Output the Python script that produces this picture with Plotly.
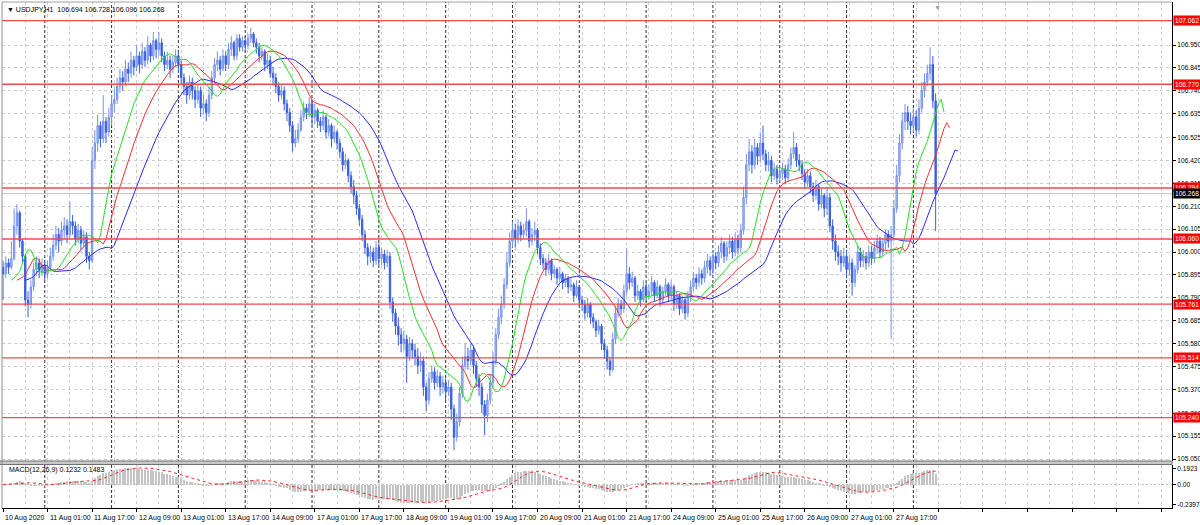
import numpy as np
import pandas as pd
import plotly.graph_objects as go

# ---------------- data (USDJPY H1) ----------------
first_open = 105.93
closes = [
    105.90, 105.95, 105.93, 105.97, 106.12, 106.18, 106.05, 105.98,
    105.78, 105.76, 105.84, 105.92, 105.95, 105.91, 105.94, 105.90,
    105.93, 105.98, 106.03, 106.08, 106.05, 106.10, 106.12, 106.08,
    106.14, 106.12, 106.06, 106.10, 106.04, 106.07, 105.98, 105.96,
    106.42, 106.50, 106.58, 106.52, 106.60, 106.55, 106.62, 106.68,
    106.70, 106.76, 106.80, 106.78, 106.84, 106.82, 106.88, 106.85,
    106.90, 106.86, 106.92, 106.88, 106.95, 106.90, 106.97, 106.93,
    106.96, 106.90, 106.86, 106.88, 106.84, 106.87, 106.90, 106.86,
    106.80, 106.76, 106.72, 106.78, 106.74, 106.70, 106.74, 106.66,
    106.68, 106.64, 106.72, 106.80, 106.86, 106.88, 106.84, 106.90,
    106.86, 106.93, 106.96, 106.90, 106.98, 106.94, 106.97, 106.95,
    106.98, 107.00, 106.96, 106.94, 106.90, 106.92, 106.86, 106.88,
    106.82, 106.80, 106.76, 106.72, 106.74, 106.68, 106.64, 106.58,
    106.50, 106.52, 106.56, 106.62, 106.66, 106.64, 106.68, 106.62,
    106.65, 106.60, 106.58, 106.62, 106.55, 106.58, 106.52, 106.55,
    106.50, 106.46, 106.40, 106.42, 106.35, 106.30, 106.26, 106.20,
    106.15, 106.08, 106.02, 105.98, 106.00, 105.96, 106.02, 105.97,
    105.99, 105.95, 105.98, 105.77, 105.72, 105.66, 105.62, 105.58,
    105.60, 105.52, 105.58, 105.55, 105.52, 105.48, 105.50, 105.38,
    105.32, 105.42, 105.45, 105.40, 105.43, 105.38, 105.40, 105.36,
    105.38, 105.28, 105.15, 105.22, 105.35, 105.48, 105.52, 105.50,
    105.55, 105.48, 105.42, 105.38, 105.30, 105.25, 105.32, 105.40,
    105.50, 105.62, 105.70, 105.76, 105.85, 105.95, 106.05, 106.10,
    106.06, 106.12, 106.08, 106.10, 106.14, 106.05, 106.08, 106.10,
    106.02, 105.97, 105.95, 105.92, 105.96, 105.90, 105.92, 105.88,
    105.90, 105.86, 105.88, 105.84, 105.85, 105.80, 105.84, 105.78,
    105.76, 105.72, 105.76, 105.70, 105.68, 105.64, 105.66, 105.58,
    105.55, 105.50, 105.46, 105.60, 105.72, 105.76, 105.74, 105.82,
    105.90, 105.86, 105.88, 105.80, 105.82, 105.78, 105.84, 105.80,
    105.82, 105.86, 105.80, 105.84, 105.78, 105.82, 105.85, 105.80,
    105.84, 105.76, 105.80, 105.74, 105.78, 105.72, 105.80, 105.84,
    105.88, 105.86, 105.90, 105.88, 105.93, 105.96, 105.92, 105.98,
    105.95, 106.00, 106.04, 105.98, 106.02, 106.05, 106.00, 106.06,
    106.02, 106.10, 106.25, 106.40, 106.46, 106.40, 106.48, 106.44,
    106.50, 106.45, 106.40, 106.42, 106.35, 106.38, 106.34, 106.36,
    106.38, 106.34, 106.40, 106.45, 106.48, 106.42, 106.40, 106.36,
    106.32, 106.35, 106.30, 106.26, 106.30, 106.22, 106.26, 106.20,
    106.25, 106.12, 106.05, 106.00, 105.98, 105.95, 105.98, 105.92,
    105.95, 105.86, 105.92, 106.00, 105.96, 105.98, 105.95, 106.00,
    105.97, 106.02, 106.05, 106.00, 106.04, 106.08, 106.05, 106.08,
    106.20, 106.35, 106.50, 106.60, 106.64, 106.60, 106.58, 106.62,
    106.56, 106.66, 106.74, 106.78, 106.82, 106.86, 106.694, 106.268,
]
highs = [
    105.96, 105.98, 105.97, 106.05, 106.20, 106.22, 106.19, 106.06,
    105.99, 105.82, 105.87, 105.95, 105.98, 105.97, 105.97, 105.96,
    105.96, 106.02, 106.08, 106.12, 106.11, 106.14, 106.16, 106.15,
    106.23, 106.17, 106.14, 106.13, 106.12, 106.10, 106.09, 106.00,
    106.48, 106.56, 106.63, 106.60, 106.72, 106.62, 106.66, 106.72,
    106.75, 106.80, 106.84, 106.83, 106.88, 106.87, 106.92, 106.90,
    106.95, 106.92, 106.96, 106.94, 106.99, 106.96, 107.01, 106.98,
    107.01, 106.98, 106.92, 106.92, 106.90, 106.90, 106.93, 106.92,
    106.88, 106.82, 106.78, 106.81, 106.80, 106.76, 106.77, 106.76,
    106.72, 106.70, 106.76, 106.83, 106.89, 106.92, 106.90, 106.93,
    106.92, 106.96, 106.99, 106.97, 107.00, 107.00, 106.99, 106.99,
    107.00, 107.03, 107.01, 106.98, 106.96, 106.94, 106.93, 106.91,
    106.90, 106.85, 106.82, 106.78, 106.77, 106.76, 106.70, 106.66,
    106.60, 106.56, 106.59, 106.65, 106.69, 106.68, 106.71, 106.70,
    106.68, 106.66, 106.62, 106.65, 106.63, 106.61, 106.59, 106.58,
    106.56, 106.52, 106.48, 106.45, 106.43, 106.37, 106.33, 106.28,
    106.22, 106.17, 106.10, 106.04, 106.03, 106.02, 106.05, 106.04,
    106.02, 106.01, 106.01, 106.00, 105.79, 105.74, 105.70, 105.65,
    105.64, 105.62, 105.61, 105.60, 105.58, 105.56, 105.54, 105.52,
    105.40, 105.45, 105.48, 105.47, 105.46, 105.45, 105.43, 105.42,
    105.41, 105.40, 105.30, 105.26, 105.38, 105.52, 105.58, 105.56,
    105.58, 105.57, 105.50, 105.44, 105.40, 105.32, 105.35, 105.44,
    105.54, 105.65, 105.74, 105.80, 105.88, 106.00, 106.09, 106.14,
    106.13, 106.15, 106.14, 106.13, 106.20, 106.15, 106.11, 106.14,
    106.11, 106.04, 105.99, 105.97, 105.99, 105.97, 105.94, 105.93,
    105.93, 105.91, 105.90, 105.89, 105.88, 105.86, 105.87, 105.85,
    105.80, 105.78, 105.79, 105.77, 105.72, 105.69, 105.69, 105.67,
    105.60, 105.57, 105.52, 105.63, 105.75, 105.79, 105.78, 105.85,
    106.02, 105.93, 105.91, 105.89, 105.85, 105.83, 105.87, 105.86,
    105.85, 105.89, 105.87, 105.87, 105.85, 105.84, 105.88, 105.86,
    105.87, 105.85, 105.82, 105.81, 105.80, 105.79, 105.82, 105.87,
    105.91, 105.90, 105.93, 105.92, 105.96, 105.99, 105.98, 106.01,
    106.00, 106.03, 106.07, 106.05, 106.05, 106.08, 106.07, 106.09,
    106.08, 106.13, 106.30, 106.45, 106.52, 106.49, 106.52, 106.50,
    106.55, 106.58, 106.47, 106.46, 106.44, 106.41, 106.40, 106.39,
    106.41, 106.40, 106.43, 106.48, 106.55, 106.50, 106.45, 106.42,
    106.38, 106.38, 106.37, 106.32, 106.33, 106.31, 106.29, 106.27,
    106.30, 106.27, 106.15, 106.08, 106.03, 106.01, 106.02, 106.01,
    105.98, 105.97, 105.94, 106.03, 106.02, 106.01, 106.00, 106.03,
    106.03, 106.05, 106.08, 106.07, 106.06, 106.10, 106.10, 106.12,
    106.24, 106.40, 106.54, 106.64, 106.68, 106.67, 106.64, 106.66,
    106.65, 106.70, 106.78, 106.82, 106.86, 106.94, 106.90, 106.728,
]
lows = [
    105.78, 105.88, 105.90, 105.92, 105.96, 106.08, 106.02, 105.95,
    105.75, 105.70, 105.74, 105.82, 105.89, 105.88, 105.89, 105.87,
    105.88, 105.92, 105.96, 106.01, 106.00, 106.03, 106.06, 106.04,
    106.06, 106.08, 106.03, 106.04, 106.01, 106.02, 105.95, 105.92,
    105.95, 106.38, 106.46, 106.48, 106.50, 106.50, 106.53, 106.58,
    106.64, 106.68, 106.73, 106.74, 106.76, 106.78, 106.80, 106.81,
    106.83, 106.82, 106.84, 106.85, 106.86, 106.87, 106.88, 106.89,
    106.90, 106.87, 106.83, 106.84, 106.80, 106.82, 106.85, 106.83,
    106.77, 106.72, 106.68, 106.70, 106.70, 106.66, 106.68, 106.62,
    106.63, 106.60, 106.62, 106.70, 106.78, 106.83, 106.81, 106.83,
    106.83, 106.84, 106.90, 106.88, 106.88, 106.92, 106.92, 106.92,
    106.93, 106.96, 106.94, 106.91, 106.87, 106.88, 106.83, 106.84,
    106.80, 106.77, 106.73, 106.69, 106.70, 106.65, 106.60, 106.55,
    106.46, 106.48, 106.50, 106.55, 106.60, 106.61, 106.62, 106.58,
    106.59, 106.57, 106.55, 106.56, 106.52, 106.53, 106.48, 106.50,
    106.47, 106.43, 106.37, 106.38, 106.32, 106.27, 106.22, 106.17,
    106.12, 106.05, 105.99, 105.94, 105.95, 105.93, 105.94, 105.94,
    105.94, 105.92, 105.93, 105.74, 105.68, 105.62, 105.57, 105.54,
    105.55, 105.40, 105.50, 105.51, 105.48, 105.44, 105.45, 105.34,
    105.27, 105.30, 105.40, 105.37, 105.38, 105.34, 105.35, 105.32,
    105.34, 105.23, 105.09, 105.13, 105.20, 105.33, 105.46, 105.46,
    105.48, 105.44, 105.38, 105.34, 105.26, 105.16, 105.22, 105.30,
    105.38, 105.48, 105.60, 105.67, 105.74, 105.83, 105.93, 106.02,
    106.02, 106.04, 106.05, 106.06, 106.07, 106.02, 106.03, 106.05,
    105.99, 105.94, 105.92, 105.89, 105.90, 105.87, 105.88, 105.85,
    105.86, 105.83, 105.84, 105.81, 105.82, 105.77, 105.79, 105.75,
    105.73, 105.69, 105.70, 105.67, 105.65, 105.61, 105.62, 105.55,
    105.51, 105.46, 105.43, 105.45, 105.58, 105.70, 105.71, 105.72,
    105.80, 105.83, 105.84, 105.77, 105.78, 105.75, 105.77, 105.77,
    105.78, 105.80, 105.77, 105.79, 105.75, 105.76, 105.80, 105.77,
    105.78, 105.73, 105.74, 105.71, 105.72, 105.69, 105.70, 105.77,
    105.82, 105.83, 105.84, 105.85, 105.86, 105.90, 105.89, 105.90,
    105.92, 105.93, 105.97, 105.95, 105.96, 105.99, 105.97, 105.98,
    105.99, 106.00, 106.08, 106.22, 106.37, 106.36, 106.38, 106.40,
    106.41, 106.42, 106.37, 106.37, 106.32, 106.33, 106.31, 106.32,
    106.33, 106.31, 106.32, 106.38, 106.43, 106.39, 106.37, 106.33,
    106.29, 106.30, 106.27, 106.23, 106.24, 106.19, 106.20, 106.16,
    106.17, 106.09, 106.01, 105.96, 105.94, 105.91, 105.93, 105.88,
    105.89, 105.80, 105.84, 105.90, 105.93, 105.93, 105.92, 105.93,
    105.94, 105.95, 105.99, 105.97, 105.98, 106.01, 106.02, 105.60,
    106.05, 106.18, 106.32, 106.47, 106.56, 106.56, 106.54, 106.55,
    106.53, 106.54, 106.64, 106.71, 106.76, 106.79, 106.66, 106.096,
]

x_label_text = ["10 Aug 2020", "11 Aug 01:00", "11 Aug 17:00", "12 Aug 09:00",
                "13 Aug 01:00", "13 Aug 17:00", "14 Aug 09:00", "17 Aug 01:00",
                "17 Aug 17:00", "18 Aug 09:00", "19 Aug 01:00", "19 Aug 17:00",
                "20 Aug 09:00", "21 Aug 01:00", "21 Aug 17:00", "24 Aug 09:00",
                "25 Aug 01:00", "25 Aug 17:00", "26 Aug 09:00", "27 Aug 01:00",
                "27 Aug 17:00"]
x_label_step = 16
day_start_bars = [15, 39, 63, 87, 111, 135, 159, 183, 207, 231, 255, 279, 303, 327]

price_ticks = [106.950, 106.845, 106.740, 106.635, 106.525, 106.420, 106.315,
               106.210, 106.105, 106.000, 105.895, 105.790, 105.685, 105.580,
               105.475, 105.370, 105.260, 105.155, 105.050]
red_levels = [107.062, 106.770, 106.294, 106.060, 105.761, 105.514, 105.240]
current_price = 106.268
macd_ticks = [0.1923, 0.0, -0.2397]
macd_tick_text = ["0.1923", "0.00", "-0.2397"]
title_text = "USDJPY,H1  106.694 106.728 106.096 106.268"
macd_text = "MACD(12,26,9) 0.1232 0.1483"

# ---------------- derived series ----------------
n = len(closes)
idx = np.arange(n)
opens = [first_open] + closes[:-1]
hi = np.maximum.reduce([np.array(highs), np.array(opens), np.array(closes)])
lo = np.minimum.reduce([np.array(lows), np.array(opens), np.array(closes)])

median = pd.Series((hi + lo) / 2.0)
def smma(s, p):
    return s.ewm(alpha=1.0 / p, adjust=False).mean().values

jaw = smma(median, 13)    # blue, shift 8
teeth = smma(median, 8)   # red, shift 5
lips = smma(median, 5)    # green, shift 3

cs = pd.Series(closes)
macd_main = (cs.ewm(span=12, adjust=False).mean() - cs.ewm(span=26, adjust=False).mean())
macd_sig = macd_main.rolling(9, min_periods=1).mean()

# ---------------- layout geometry (pixels) ----------------
W, H = 1200, 525
L, R, T, B = 2, 28, 2, 17
plot_h = H - T - B
def py(ypix):
    return (H - B - ypix) / plot_h

main_dom = [py(461), 1.0]
macd_dom = [0.0, py(464.5)]

px_per_bar = 2.784
x0_pix = 3.0
x_min = (L - x0_pix) / px_per_bar
x_max = (W - R - x0_pix) / px_per_bar

ppu = 217.9  # pixels per 1.0 price
p_top = 106.95 + (45 - T) / ppu
p_bot = 106.95 - (461 - 45) / ppu

FONT = "Liberation Sans"
fs = 6.6

fig = go.Figure()

fig.add_trace(go.Candlestick(
    x=idx, open=opens, high=hi, low=lo, close=closes,
    increasing=dict(line=dict(color="#7592ea", width=1), fillcolor="#aebff3"),
    decreasing=dict(line=dict(color="#3a5fdc", width=1), fillcolor="#3a5fdc"),
    whiskerwidth=0, showlegend=False, hoverinfo="skip",
    xaxis="x", yaxis="y"))

fig.add_trace(go.Scatter(x=idx + 8, y=jaw, mode="lines",
                         line=dict(color="#2b2bf0", width=1), showlegend=False,
                         xaxis="x", yaxis="y"))
fig.add_trace(go.Scatter(x=idx + 5, y=teeth, mode="lines",
                         line=dict(color="#f03030", width=1), showlegend=False,
                         xaxis="x", yaxis="y"))
fig.add_trace(go.Scatter(x=idx + 3, y=lips, mode="lines",
                         line=dict(color="#22e022", width=1), showlegend=False,
                         xaxis="x", yaxis="y"))

fig.add_trace(go.Bar(x=idx, y=macd_main, width=0.38, marker=dict(color="#c4c4c4", line=dict(width=0)),
                     showlegend=False, xaxis="x2", yaxis="y2"))
fig.add_trace(go.Scatter(x=idx, y=macd_sig, mode="lines",
                         line=dict(color="#ff2020", width=1, dash="dot"),
                         showlegend=False, xaxis="x2", yaxis="y2"))

shapes = []
for lv in red_levels:
    shapes.append(dict(type="line", xref="paper", x0=0, x1=1, yref="y", y0=lv, y1=lv,
                       line=dict(color="#f24a4a", width=1.4), layer="above"))
shapes.append(dict(type="line", xref="paper", x0=0, x1=1, yref="y", y0=current_price, y1=current_price,
                   line=dict(color="#c0c0c0", width=1), layer="below"))
for d in day_start_bars:
    shapes.append(dict(type="line", xref="x", x0=d, x1=d, yref="paper", y0=0, y1=1,
                       line=dict(color="#303030", width=1, dash="3px,2px"), layer="below"))
shapes.append(dict(type="line", xref="paper", x0=0, x1=1, yref="y2", y0=0, y1=0,
                   line=dict(color="#c8c8c8", width=1, dash="2px,2px"), layer="below"))
shapes.append(dict(type="rect", xref="paper", x0=-0.002, x1=1, yref="paper", y0=py(464.5), y1=py(461),
                   fillcolor="#c8c8c8", line=dict(color="#707070", width=1), layer="above"))
shapes.append(dict(type="line", xref="paper", x0=0, x1=0, yref="paper", y0=0, y1=1,
                   line=dict(color="#909090", width=1)))
shapes.append(dict(type="line", xref="paper", x0=0, x1=1, yref="paper", y0=1, y1=1,
                   line=dict(color="#a0a0a0", width=1)))

annotations = []
for lv in red_levels:
    annotations.append(dict(xref="paper", x=1, yref="y", y=lv, text=f"{lv:.3f}", showarrow=False,
                            xanchor="left", yanchor="middle", xshift=1,
                            font=dict(family=FONT, size=fs, color="white"),
                            bgcolor="#ff0000", borderpad=1))
annotations.append(dict(xref="paper", x=1, yref="y", y=current_price, text=f"{current_price:.3f}",
                        showarrow=False, xanchor="left", yanchor="middle", xshift=1,
                        font=dict(family=FONT, size=fs, color="white"),
                        bgcolor="#000000", borderpad=1))
for k, t in enumerate(x_label_text):
    annotations.append(dict(xref="x2", x=k * x_label_step, yref="paper", y=py(512), text=t,
                            showarrow=False, xanchor="left", yanchor="top", xshift=0,
                            font=dict(family=FONT, size=fs + 0.4, color="black")))
annotations.append(dict(xref="paper", x=0, yref="paper", y=py(9), text="▼ " + title_text,
                        showarrow=False, xanchor="left", yanchor="middle", xshift=3,
                        font=dict(family=FONT, size=fs + 0.4, color="black")))
annotations.append(dict(xref="paper", x=0, yref="paper", y=py(470), text=macd_text,
                        showarrow=False, xanchor="left", yanchor="middle", xshift=5,
                        font=dict(family=FONT, size=fs + 0.4, color="black")))
annotations.append(dict(xref="x", x=n - 1 + 0.5, yref="paper", y=1, text="▼",
                        showarrow=False, xanchor="center", yanchor="top",
                        font=dict(family=FONT, size=7, color="#a0a0a0")))

grid_col = "#cccccc"
fig.update_layout(
    width=W, height=H,
    margin=dict(l=L, r=R, t=T, b=B, autoexpand=False),
    paper_bgcolor="white", plot_bgcolor="white",
    showlegend=False, bargap=0, hovermode=False,
    xaxis=dict(domain=[0, 1], anchor="y", range=[x_min, x_max], showticklabels=False,
               tickmode="linear", tick0=0, dtick=8, showgrid=True, gridcolor=grid_col,
               griddash="3px,3px", gridwidth=1, zeroline=False, ticks="",
               rangeslider=dict(visible=False), showline=False),
    xaxis2=dict(domain=[0, 1], anchor="y2", matches="x", range=[x_min, x_max],
                tickmode="linear", tick0=0, dtick=x_label_step, showticklabels=False,
                ticks="outside", ticklen=3, tickcolor="black",
                showgrid=True, gridcolor=grid_col, griddash="3px,3px",
                minor=dict(tickmode="linear", tick0=0, dtick=8, showgrid=True,
                           gridcolor=grid_col, griddash="3px,3px", ticks=""),
                zeroline=False, showline=True, linecolor="black", linewidth=1),
    yaxis=dict(domain=main_dom, anchor="x", side="right", range=[p_bot, p_top],
               tickmode="array", tickvals=price_ticks,
               ticktext=[f"{v:.3f}" for v in price_ticks],
               ticks="outside", ticklen=3, tickcolor="black",
               tickfont=dict(family=FONT, size=fs, color="black"),
               showgrid=True, gridcolor=grid_col, griddash="3px,3px", zeroline=False,
               showline=True, linecolor="black", linewidth=1),
    yaxis2=dict(domain=macd_dom, anchor="x2", side="right", range=[-0.282, 0.24],
                tickmode="array", tickvals=macd_ticks, ticktext=macd_tick_text,
                ticks="outside", ticklen=3, tickcolor="black",
                tickfont=dict(family=FONT, size=fs, color="black"),
                showgrid=False, zeroline=False,
                showline=True, linecolor="black", linewidth=1),
    shapes=shapes, annotations=annotations,
)

fig.write_html("out.html", config={"displayModeBar": False},
               post_script="document.body.style.margin='0';document.body.style.overflow='hidden';")
